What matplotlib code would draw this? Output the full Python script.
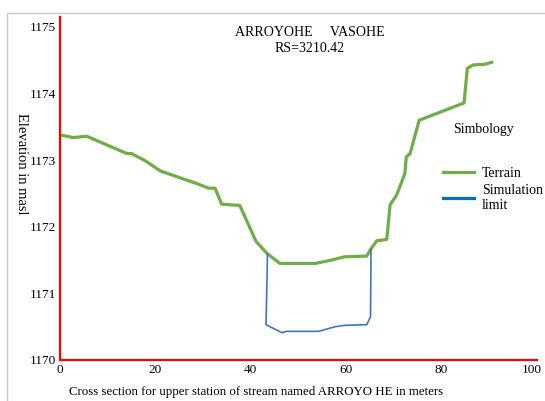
import matplotlib
matplotlib.use('Agg')
import matplotlib.pyplot as plt
import matplotlib.transforms as mtransforms
from matplotlib.patches import Rectangle

# Data
terrain_x = [0, 2.8, 5.6, 14.0, 15.0, 17.9, 21.0, 29.4, 31.1, 32.5, 33.9, 37.7,
             41.1, 43.4, 46.1, 53.5, 56.3, 59.7, 64.3, 65.1, 66.4, 68.5, 69.2,
             70.6, 72.3, 72.6, 73.4, 75.3, 84.7, 85.4, 86.6, 89.1, 90.5]
terrain_y = [1173.38, 1173.34, 1173.36, 1173.10, 1173.10, 1172.99, 1172.84, 1172.63,
             1172.58, 1172.58, 1172.34, 1172.32, 1171.78, 1171.60, 1171.45, 1171.45,
             1171.49, 1171.55, 1171.56, 1171.66, 1171.79, 1171.81, 1172.33, 1172.48,
             1172.80, 1173.05, 1173.10, 1173.60, 1173.86, 1174.38, 1174.43, 1174.44,
             1174.47]
limit_x = [43.5, 43.2, 46.5, 47.5, 54.2, 57.7, 59.7, 64.3, 65.1, 65.2]
limit_y = [1171.60, 1170.53, 1170.41, 1170.43, 1170.43, 1170.50, 1170.52, 1170.53,
           1170.65, 1171.66]

x_ticks = [0, 20, 40, 60, 80, 100]
y_ticks = [1170, 1171, 1172, 1173, 1174, 1175]

plt.rcParams['font.family'] = ['Liberation Serif', 'DejaVu Serif']

fig = plt.figure(figsize=(5.45, 4.01), dpi=100)
W, H = 545, 401
ax = fig.add_axes([60 / W, 1 - 360 / H, (537 - 60) / W, (360 - 17) / H])

ax.plot(terrain_x, terrain_y, color='#70AD47', lw=2.3, label='Terrain',
        solid_joinstyle='round')
ax.plot(limit_x, limit_y, color='#4472C4', lw=1.2, solid_joinstyle='round')
# legend handle uses a brighter blue, as in the reference
ax.plot([], [], color='#0070C0', lw=2.3, label='Simulation\nlimit')

ax.set_xlim(0, 100)
ax.set_ylim(1170, 1175.15)
ax.set_xticks(x_ticks)
ax.set_yticks(y_ticks)
ax.tick_params(length=0, labelsize=9.5, pad=3)

# nudge the last x tick label so it stays inside the picture
last = ax.get_xticklabels()[-1]
last.set_transform(last.get_transform() +
                   mtransforms.ScaledTranslation(-5 / 100, 0, fig.dpi_scale_trans))

for s in ['top', 'right']:
    ax.spines[s].set_visible(False)
for s in ['left', 'bottom']:
    ax.spines[s].set_color('red')
    ax.spines[s].set_linewidth(1.6)

fig.text(256 / W, 1 - 392 / H,
         'Cross section for upper station of stream named ARROYO HE in meters',
         fontsize=9.3, ha='center', va='center')
fig.text(21 / W, 1 - 164 / H, 'Elevation in masl', rotation=270, fontsize=10.5,
         ha='center', va='center')

fig.text(310 / W, 1 - 33 / H, 'ARROYOHE     VASOHE', fontsize=10,
         ha='center', va='center')
fig.text(310 / W, 1 - 49 / H, 'RS=3210.42', fontsize=10, ha='center', va='center')

fig.text(483 / W, 1 - 130 / H, 'Simbology', fontsize=10, ha='center', va='center')
ax.legend(frameon=False, fontsize=10, loc='upper left',
          bbox_to_anchor=(436 / W, 1 - 160 / H), bbox_transform=fig.transFigure,
          handlelength=2.2, handletextpad=0.6, labelspacing=0.3, borderpad=0)

# thin grey frame around the picture
fig.patches.append(Rectangle((7 / W, -0.1), 1.2, (H - 13) / H + 0.1,
                             transform=fig.transFigure, fill=False,
                             edgecolor='#c8c8c8', lw=1))

fig.savefig('out.png', dpi=100)
